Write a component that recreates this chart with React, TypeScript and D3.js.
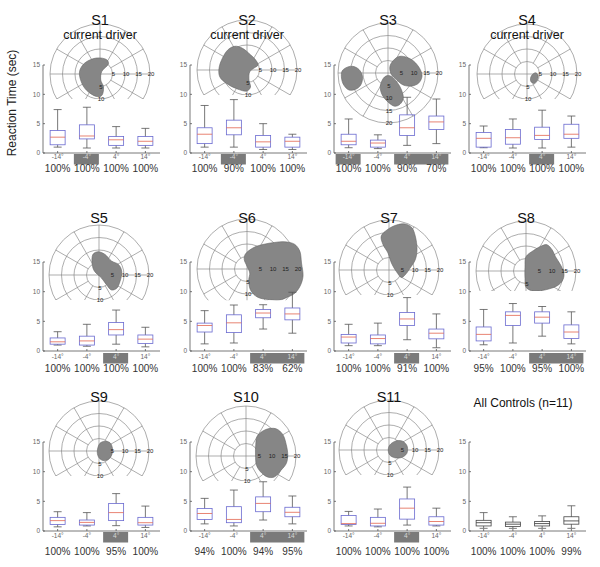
import React from "react";
import * as d3 from "d3";

// condition labels under each box plot
const conditions = ["-14°", "-4°", "4°", "14°"];
const panelNames = ["S1", "S2", "S3", "S4", "S5", "S6", "S7", "S8", "S9", "S10", "S11", "All Controls (n=11)"];
const currentDriver = ["S1", "S2", "S4"];

// reaction times per condition: [low whisker, q1, median, q3, high whisker]
const s1Boxes = [[1.0, 1.4, 2.7, 3.85, 7.4], [0.85, 2.4, 2.9, 4.8, 7.8], [0.85, 1.3, 2.25, 2.8, 4.5], [0.85, 1.3, 2.0, 2.8, 4.2]];
const s2Boxes = [[1.0, 1.6, 3.2, 4.3, 8.1], [1.0, 3.1, 4.3, 5.6, 9.1], [0.6, 1.0, 1.9, 3.0, 5.0], [0.6, 1.0, 2.0, 2.7, 3.2]];
const s3Boxes = [[0.9, 1.4, 2.0, 3.2, 5.8], [0.75, 1.0, 1.7, 2.2, 3.1], [1.3, 3.0, 4.3, 6.5, 9.5], [1.6, 4.0, 5.3, 6.3, 9.2]];
const s4Boxes = [[0.9, 1.0, 2.5, 3.5, 4.6], [0.85, 1.5, 2.6, 4.0, 5.8], [0.85, 2.3, 3.0, 4.4, 7.3], [1.0, 2.5, 3.2, 4.9, 6.3]];
const s5Boxes = [[1.0, 1.15, 1.55, 2.2, 3.25], [0.8, 1.0, 1.7, 2.5, 4.5], [1.15, 2.7, 3.6, 4.8, 6.9], [0.7, 1.25, 2.0, 2.7, 4.0]];
const s6Boxes = [[1.2, 3.2, 4.3, 4.7, 6.8], [1.35, 3.1, 4.75, 6.1, 7.75], [3.7, 5.6, 6.4, 7.0, 7.8], [3.0, 5.25, 6.25, 7.25, 9.9]];
const s7Boxes = [[0.9, 1.35, 2.35, 2.8, 4.5], [0.9, 1.2, 2.1, 2.7, 4.7], [1.9, 4.3, 5.4, 6.5, 9.0], [0.55, 2.05, 3.0, 3.7, 6.25]];
const s8Boxes = [[1.05, 1.7, 2.8, 4.05, 7.0], [1.35, 4.3, 6.0, 6.6, 8.0], [2.5, 4.7, 5.7, 6.6, 7.5], [1.2, 2.1, 3.2, 4.4, 6.6]];
const s9Boxes = [[0.7, 1.1, 1.75, 2.3, 3.25], [0.85, 1.0, 1.45, 1.85, 3.1], [0.9, 1.75, 3.1, 4.65, 6.3], [0.6, 1.0, 1.4, 2.3, 4.2]];
const s10Boxes = [[1.2, 1.95, 2.95, 3.8, 5.5], [0.85, 1.4, 1.95, 4.1, 6.9], [1.85, 3.25, 4.65, 5.75, 8.3], [1.2, 2.4, 3.15, 4.0, 5.9]];
const s11Boxes = [[0.85, 1.1, 1.25, 2.6, 3.3], [0.7, 0.85, 1.3, 2.3, 3.7], [1.0, 2.0, 3.85, 5.4, 7.4], [0.85, 1.0, 1.6, 2.4, 3.85]];
const controlBoxes = [[0.45, 0.85, 1.4, 1.8, 3.1], [0.45, 0.75, 1.15, 1.5, 2.4], [0.45, 0.85, 1.25, 1.6, 2.55], [0.45, 1.15, 1.7, 2.4, 4.25]];
const boxStats = [s1Boxes, s2Boxes, s3Boxes, s4Boxes, s5Boxes, s6Boxes, s7Boxes, s8Boxes, s9Boxes, s10Boxes, s11Boxes, controlBoxes];

// percent of trials answered, per condition
const percents = [
  [100, 100, 100, 100], [100, 90, 100, 100], [100, 100, 90, 70], [100, 100, 100, 100],
  [100, 100, 100, 100], [100, 100, 83, 62], [100, 100, 91, 100], [95, 100, 95, 100],
  [100, 100, 95, 100], [94, 100, 94, 95], [100, 100, 100, 100], [100, 100, 100, 99],
];

// conditions whose target fell in the scotoma (grey label)
const highlighted = [[1], [1], [0, 2, 3], [2], [2], [2, 3], [2], [2, 3], [2], [2, 3], [2], []];

// scotoma outlines, visual field degrees [x, y]
const s1Blob = [[-6.1, 4.4], [-1.4, 6.4], [2.7, 5.7], [3.4, 4.1], [0.7, 1.0], [0.3, -2.4], [1.4, -5.2], [0.7, -8.6], [-1.4, -9.0], [-5.4, -6.5], [-7.5, -3.1], [-8.2, 1.0]];
const s2Blob = [[-4.8, 9.5], [-2.0, 8.8], [1.4, 6.1], [3.4, 4.1], [4.4, 2.0], [2.7, 0.7], [1.1, -0.7], [0.8, -4.1], [1.4, -6.8], [0, -8.4], [-4.1, -7.5], [-8.2, -5.4], [-10.9, -2.7], [-11.2, 0.7], [-9.8, 4.8], [-7.5, 8.2]];
const s3BlobA = [[-18.4, 0.7], [-17.0, 2.0], [-14.3, 2.7], [-11.6, 1.4], [-10.2, -1.4], [-10.9, -4.8], [-12.9, -6.5], [-15.6, -6.8], [-17.7, -4.8], [-18.6, -2.0]];
const s3BlobB = [[1.4, 4.1], [4.1, 6.5], [6.8, 6.5], [10.2, 4.8], [12.9, 1.4], [13.6, -1.4], [12.2, -4.1], [9.5, -5.2], [6.1, -4.8], [3.4, -2.7], [1.4, -0.7], [0.7, 2.0]];
const s3BlobC = [[-1.4, -1.6], [0.7, -1.1], [3.4, -3.4], [5.4, -6.8], [6.1, -10.2], [4.8, -12.5], [2.7, -13.3], [0, -11.6], [-2.3, -8.8], [-3.1, -5.4]];
const s4Blob = [[2.0, -0.4], [3.4, 0.5], [4.4, -0.4], [4.1, -2.4], [2.7, -3.8], [1.6, -3.1], [1.4, -1.8]];
const s5Blob = [[-2.4, 8.3], [-0.4, 9.3], [2.3, 8.3], [5.0, 5.6], [7.8, 4.2], [9.1, 1.5], [8.4, -2.6], [7.1, -5.3], [5.0, -6.0], [3.0, -3.9], [1.0, -1.2], [-1.8, 1.5], [-2.7, 4.2]];
const s6Blob = [[-0.7, 5.9], [2.7, 8.6], [6.8, 9.9], [10.9, 10.6], [15.0, 10.9], [19.0, 9.9], [21.1, 7.2], [21.8, 2.4], [22.4, -3.0], [21.1, -7.1], [19.0, -9.8], [16.3, -11.2], [12.9, -12.5], [8.2, -12.2], [4.1, -11.2], [1.4, -8.4], [0.7, -4.4], [1.1, -1.6], [0, 1.1], [-1.1, 3.8]];
const s7Blob = [[-3.1, 13.6], [-0.4, 16.3], [3.0, 18.0], [6.4, 18.4], [9.1, 17.0], [10.5, 13.6], [11.2, 8.2], [10.5, 4.1], [8.4, 0.7], [6.4, -2.0], [5.0, -3.0], [3.0, -0.7], [1.0, 2.7], [-0.4, 6.8], [-2.4, 10.2]];
const s8Blob = [[0, 5.7], [3.0, 8.2], [6.4, 10.1], [8.4, 10.5], [10.5, 8.4], [11.8, 5.7], [13.9, 2.3], [15.2, -1.1], [14.6, -3.8], [12.5, -5.9], [9.1, -7.2], [5.7, -7.9], [2.3, -7.9], [0, -6.5], [-0.4, -3.1], [-0.4, 1.6]];
const s9Blob = [[0.3, 3.0], [2.3, 3.9], [4.4, 3.3], [5.4, 1.0], [5.0, -1.8], [3.7, -3.4], [1.6, -3.8], [0, -2.7], [-0.7, -0.4]];
const s10Blob = [[4.5, 7.9], [7.9, 10.6], [12.0, 10.9], [14.7, 8.6], [16.1, 4.5], [16.7, 0.4], [16.1, -3.0], [14.0, -5.7], [11.3, -8.4], [8.6, -8.4], [5.9, -6.4], [4.2, -3.7], [3.8, 0.4], [3.9, 4.5]];
const s11Blob = [[0.3, 2.0], [3.0, 3.7], [5.7, 3.4], [7.3, 1.4], [7.1, -1.4], [5.0, -3.0], [2.3, -3.1], [0.3, -2.0], [-0.3, 0]];
const blobs = [[s1Blob], [s2Blob], [s3BlobA, s3BlobB, s3BlobC], [s4Blob], [s5Blob], [s6Blob], [s7Blob], [s8Blob], [s9Blob], [s10Blob], [s11Blob], []];

const ringRadii = [5, 10, 15, 20];
const spokeAngles = [30, 60, 120, 150, 210, 240, 300, 330];

// ---- layout ----
const font = "Liberation Sans, Arial, Helvetica, sans-serif";
const colLeft = [43, 190, 334, 469];
const rows = [
  { y0: 153, yTop: 65, tickY: 159, hiTop: 154, pctY: 172, titleY: 25 },
  { y0: 351, yTop: 262, tickY: 359, hiTop: 353, pctY: 372, titleY: 223 },
  { y0: 531, yTop: 442, tickY: 538, hiTop: 532, pctY: 555, titleY: 402 },
];
const polarCenters = [[100, 74], [247, 70], [388, 73], [527, 74], [99, 275], [247, 269], [389, 270], [526, 271], [99, 451], [246, 456], [389, 450]];
const polarClip = [-10, -10, -21, -10, -10, -12.5, -10, -8, -10, -10, -10];
const R = 50;

function Polar({ i }: { i: number }) {
  const [cx, cy] = polarCenters[i];
  const px = d3.scaleLinear().domain([-20, 20]).range([cx - R, cx + R]);
  const py = d3.scaleLinear().domain([-20, 20]).range([cy + R, cy - R]);
  const clipId = "pclip" + i;
  const line = d3.line<number[]>().x((d) => px(d[0])).y((d) => py(d[1])).curve(d3.curveCatmullRomClosed);
  const rad = (a: number) => (a * Math.PI) / 180;
  return (
    <g>
      <clipPath id={clipId}>
        <rect x={cx - R - 4} y={cy - R - 4} width={2 * R + 14} height={py(polarClip[i]) - (cy - R - 4)} />
      </clipPath>
      <g clipPath={`url(#${clipId})`} fill="none" stroke="#8a8a8a" strokeWidth={0.7}>
        {ringRadii.map((r) => (
          <circle key={r} cx={cx} cy={cy} r={px(r) - cx} />
        ))}
        {spokeAngles.map((a) => (
          <line key={a} x1={px(5 * Math.cos(rad(a)))} y1={py(5 * Math.sin(rad(a)))} x2={px(20 * Math.cos(rad(a)))} y2={py(20 * Math.sin(rad(a)))} />
        ))}
        <line x1={px(-20)} x2={px(20)} y1={cy} y2={cy} />
        <line x1={cx} x2={cx} y1={py(20)} y2={py(-20)} />
        {blobs[i].map((b, k) => (
          <path key={k} d={line(b) || ""} fill="#868686" stroke="#666" strokeWidth={0.6} />
        ))}
      </g>
      <g fontFamily={font} fontSize={6} fill="#222" textAnchor="middle">
        {ringRadii.map((r) => (
          <text key={"h" + r} x={px(r) + 1} y={cy + 2}>{r}</text>
        ))}
        {ringRadii
          .filter((r) => -r >= polarClip[i] - 0.5)
          .map((r) => (
            <text key={"v" + r} x={cx + 1} y={py(-r) + 2}>{r}</text>
          ))}
      </g>
    </g>
  );
}

function Panel({ i }: { i: number }) {
  const row = rows[Math.floor(i / 4)];
  const left = colLeft[i % 4];
  const x = d3.scaleLinear().domain([0.5, 4.5]).range([left, left + 117]);
  const y = d3.scaleLinear().domain([0, 15]).range([row.y0, row.yTop]);
  const isControl = i === 11;
  const boxColor = isControl ? "#444" : "#6a6ad0";
  const medColor = isControl ? "#333" : "#e2654f";
  const whiskColor = "#555";
  const bw = 15;
  const cw = 8;

  // merge consecutive highlighted conditions into one grey band
  const runs: number[][] = [];
  highlighted[i].forEach((c) => {
    const last = runs[runs.length - 1];
    if (last && last[1] === c - 1) last[1] = c;
    else runs.push([c, c]);
  });

  const titleX = isControl ? 523 : polarCenters[i][0];

  return (
    <g>
      {!isControl && <Polar i={i} />}
      <text x={titleX} y={isControl ? row.titleY + 5 : row.titleY} textAnchor="middle" fontFamily={font} fontSize={isControl ? 12 : 14.5} fill="#111">
        {panelNames[i]}
      </text>
      {currentDriver.includes(panelNames[i]) && (
        <text x={titleX} y={row.titleY + 14} textAnchor="middle" fontFamily={font} fontSize={12.5} fill="#111">
          current driver
        </text>
      )}
      {/* axes */}
      <g stroke="#555" strokeWidth={0.8} fill="none">
        <line x1={left} x2={left} y1={y(0)} y2={y(15)} />
        <line x1={left} x2={x(4.5)} y1={y(0)} y2={y(0)} />
        {[0, 5, 10, 15].map((t) => (
          <line key={t} x1={left} x2={left + 2} y1={y(t)} y2={y(t)} />
        ))}
        {conditions.map((c, j) => (
          <line key={c} x1={x(j + 1)} x2={x(j + 1)} y1={y(0)} y2={y(0) - 2} />
        ))}
      </g>
      <g fontFamily={font} fontSize={6.5} fill="#666" textAnchor="end">
        {[0, 5, 10, 15].map((t) => (
          <text key={t} x={left - 3} y={y(t) + 2.3}>{t}</text>
        ))}
      </g>
      {runs.map(([a, b]) => (
        <rect key={a} x={x(a + 1) - 13} y={row.hiTop} width={x(b + 1) + 12 - (x(a + 1) - 13)} height={10.5} fill="#7a7a7a" />
      ))}
      <g fontFamily={font} fontSize={6.5} textAnchor="middle">
        {conditions.map((c, j) => (
          <text key={c} x={x(j + 1)} y={row.tickY} fill={highlighted[i].includes(j) ? "#d8d8d8" : "#666"}>{c}</text>
        ))}
      </g>
      <g fontFamily={font} fontSize={10} textAnchor="middle" fill="#333">
        {percents[i].map((p, j) => (
          <text key={j} x={x(j + 1)} y={row.pctY}>{p + "%"}</text>
        ))}
      </g>
      {/* boxes */}
      {boxStats[i].map(([lo, q1, med, q3, hi], j) => {
        const xc = x(j + 1);
        return (
          <g key={j} fill="none" strokeWidth={0.8}>
            <line x1={xc} x2={xc} y1={y(q3)} y2={y(hi)} stroke={whiskColor} />
            <line x1={xc} x2={xc} y1={y(q1)} y2={y(lo)} stroke={whiskColor} />
            <line x1={xc - cw / 2} x2={xc + cw / 2} y1={y(hi)} y2={y(hi)} stroke={whiskColor} />
            <line x1={xc - cw / 2} x2={xc + cw / 2} y1={y(lo)} y2={y(lo)} stroke={whiskColor} />
            <rect x={xc - bw / 2} y={y(q3)} width={bw} height={y(q1) - y(q3)} stroke={boxColor} />
            <line x1={xc - bw / 2} x2={xc + bw / 2} y1={y(med)} y2={y(med)} stroke={medColor} />
          </g>
        );
      })}
    </g>
  );
}

export default function App() {
  return (
    <svg width={600} height={567} style={{ position: "absolute", left: 0, top: 0, background: "#fff" }}>
      <rect width={600} height={567} fill="#fff" />
      <text transform="translate(16,103) rotate(-90)" textAnchor="middle" fontFamily={font} fontSize={12} fill="#222">
        Reaction Time (sec)
      </text>
      {panelNames.map((_, i) => (
        <Panel key={i} i={i} />
      ))}
    </svg>
  );
}
